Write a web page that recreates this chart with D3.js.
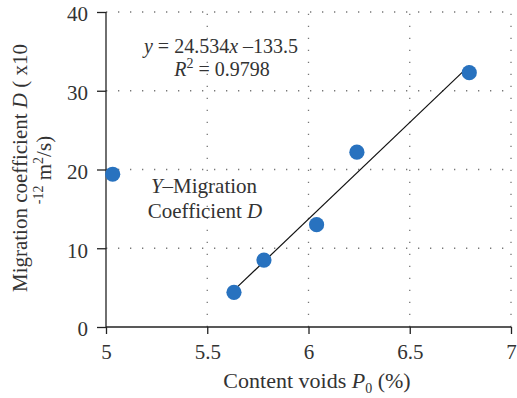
<!DOCTYPE html>
<html>
<head>
<meta charset="utf-8">
<script src="https://cdn.jsdelivr.net/npm/d3@7"></script>
<style>
  body { margin: 0; background: #fff; }
  text { font-family: "Liberation Serif", "DejaVu Serif", serif; fill: #333; }
</style>
</head>
<body>
<svg id="chart" width="517" height="398"></svg>
<script>
// Void content vs. migration coefficient
const voidContent = [5.033, 5.632, 5.780, 6.040, 6.239, 6.794];
const migrationD  = [19.4, 4.4, 8.5, 13.0, 22.2, 32.3];
const xTicks = [5, 5.5, 6, 6.5, 7];
const yTicks = [0, 10, 20, 30, 40];
// Linear fit y = 24.534x - 133.5 over the fitted range
const fitSlope = 24.534, fitIntercept = -133.5;
const fitRange = [5.632, 6.794];

const FS = 21;
const svg = d3.select("#chart");
const x = d3.scaleLinear().domain([5, 7]).range([106, 511]);
const y = d3.scaleLinear().domain([0, 40]).range([327, 12]);

// dotted grid
const grid = svg.append("g").attr("stroke", "#777").attr("stroke-width", 1.3)
  .attr("stroke-dasharray", "1.3,10.7");
grid.selectAll("line.h").data(yTicks.filter(d => d > 0)).join("line")
  .attr("x1", x(5)).attr("x2", x(7))
  .attr("y1", d => y(d)).attr("y2", d => y(d));
grid.selectAll("line.v").data(xTicks.filter(d => d > 5)).join("line")
  .attr("y1", y(0)).attr("y2", y(40))
  .attr("x1", d => x(d)).attr("x2", d => x(d));

// axes
const xAxis = svg.append("g").attr("transform", `translate(0,${y(0)})`)
  .call(d3.axisBottom(x).tickValues(xTicks).tickFormat(d3.format("")).tickSize(7).tickPadding(10));
const yAxis = svg.append("g").attr("transform", `translate(${x(5)},0)`)
  .call(d3.axisLeft(y).tickValues(yTicks).tickSize(9).tickPadding(9));
[xAxis, yAxis].forEach(a => {
  a.attr("font-size", FS).attr("font-family", "Liberation Serif, serif");
  a.select(".domain").attr("stroke", "#222").attr("stroke-width", 1.3);
  a.selectAll(".tick line").attr("stroke", "#222").attr("stroke-width", 1.3);
  a.selectAll(".tick text").attr("fill", "#333");
});
yAxis.selectAll(".tick text").attr("dy", "0.42em");
yAxis.select(".domain").attr("d", `M0,${y(40)}V${y(0)}`);
xAxis.select(".domain").attr("d", `M${x(5)},0H${x(7)}`);

// fit line
svg.append("line")
  .attr("x1", x(fitRange[0])).attr("y1", y(fitSlope * fitRange[0] + fitIntercept))
  .attr("x2", x(fitRange[1])).attr("y2", y(fitSlope * fitRange[1] + fitIntercept))
  .attr("stroke", "#111").attr("stroke-width", 1.2);

// data points
svg.selectAll("circle.pt").data(voidContent).join("circle")
  .attr("cx", d => x(d)).attr("cy", (d, i) => y(migrationD[i]))
  .attr("r", 7.6).attr("fill", "#2872BF");

// equation
const eq = svg.append("text").attr("x", 221).attr("y", 53).attr("text-anchor", "middle").attr("font-size", 20);
eq.append("tspan").attr("font-style", "italic").text("y");
eq.append("tspan").text(" = 24.534");
eq.append("tspan").attr("font-style", "italic").text("x");
eq.append("tspan").text(" \u2013133.5");
const r2 = svg.append("text").attr("x", 222).attr("y", 76).attr("text-anchor", "middle").attr("font-size", 20);
r2.append("tspan").attr("font-style", "italic").text("R");
r2.append("tspan").attr("font-size", 14).attr("dy", -8).text("2");
r2.append("tspan").attr("dy", 8).text(" = 0.9798");

// series label
const s1 = svg.append("text").attr("x", 204).attr("y", 193).attr("text-anchor", "middle").attr("font-size", FS);
s1.append("tspan").attr("font-style", "italic").text("Y");
s1.append("tspan").text("\u2013Migration");
const s2 = svg.append("text").attr("x", 205).attr("y", 218).attr("text-anchor", "middle").attr("font-size", FS);
s2.append("tspan").text("Coefficient ");
s2.append("tspan").attr("font-style", "italic").text("D");

// x title
const xt = svg.append("text").attr("x", 317).attr("y", 388).attr("text-anchor", "middle").attr("font-size", 22);
xt.append("tspan").text("Content voids ");
xt.append("tspan").attr("font-style", "italic").text("P");
xt.append("tspan").attr("font-size", 14).attr("dy", 5).text("0");
xt.append("tspan").attr("dy", -5).text(" (%)");

// y title (two lines, rotated)
const yt1 = svg.append("text").attr("transform", "translate(27,168) rotate(-90)")
  .attr("text-anchor", "middle").attr("font-size", FS);
yt1.append("tspan").text("Migration coefficient ");
yt1.append("tspan").attr("font-style", "italic").text("D");
yt1.append("tspan").text(" ( x10");
const yt2 = svg.append("text").attr("transform", "translate(51,170) rotate(-90)")
  .attr("text-anchor", "middle").attr("font-size", FS);
yt2.append("tspan").attr("font-size", 14).attr("dy", -8).text("-12");
yt2.append("tspan").attr("dy", 8).text(" m");
yt2.append("tspan").attr("font-size", 14).attr("dy", -8).text("2");
yt2.append("tspan").attr("dy", 8).text("/s)");
</script>
</body>
</html>
